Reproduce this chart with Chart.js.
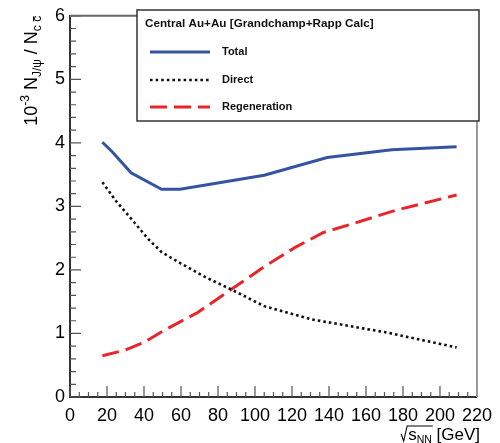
<!DOCTYPE html>
<html>
<head>
<meta charset="utf-8">
<script src="https://cdn.jsdelivr.net/npm/chart.js@4/dist/chart.umd.min.js"></script>
<style>
  html, body { margin: 0; padding: 0; background: #fff; }
  #chart { display: block; }
</style>
</head>
<body>
<canvas id="chart" width="500" height="443"></canvas>
<script>
// values (sqrt(s_NN) in GeV, 10^-3 N_J/psi / N_ccbar)
const xTotal = [17.5, 22.8, 33, 49.5, 59.5, 105, 139, 174, 209];
const yTotal = [4.01, 3.86, 3.53, 3.27, 3.27, 3.49, 3.77, 3.89, 3.94];

const xDirect = [17.5, 25, 33.5, 42.5, 49.5, 60, 73, 88, 105, 131, 172, 209];
const yDirect = [3.38, 3.08, 2.79, 2.48, 2.28, 2.10, 1.89, 1.68, 1.43, 1.22, 1.01, 0.78];

const xRegen = [17.5, 30, 40, 51.5, 69, 88, 105, 122, 137, 152, 175, 209];
const yRegen = [0.65, 0.74, 0.86, 1.06, 1.33, 1.71, 2.05, 2.36, 2.59, 2.72, 2.93, 3.18];

const seriesNames = ['Total', 'Direct', 'Regeneration'];
const legendTitle = 'Central Au+Au [Grandchamp+Rapp Calc]';

const FONT = '"Liberation Sans", Arial, Helvetica, sans-serif';

function pts(xs, ys) {
	return xs.map((x, i) => ({ x: x, y: ys[i] }));
}

// inward ticks + top/right frame, ROOT style
const frame = {
	id: 'frame',
	beforeDatasetsDraw(chart) {
		const ctx = chart.ctx;
		const a = chart.chartArea;
		const xs = chart.scales.x;
		const ys = chart.scales.y;
		ctx.save();
		ctx.strokeStyle = '#555';
		ctx.lineWidth = 1.2;
		ctx.beginPath();
		for (let v = 0; v <= 220; v += 5) {
			const px = xs.getPixelForValue(v);
			const len = (v % 20 === 0) ? 11 : 5;
			ctx.moveTo(px, a.bottom);
			ctx.lineTo(px, a.bottom - len);
		}
		for (let i = 0; i <= 30; i++) {
			const py = ys.getPixelForValue(i * 0.2);
			const len = (i % 5 === 0) ? 11 : 6;
			ctx.moveTo(a.left, py);
			ctx.lineTo(a.left + len, py);
		}
		ctx.stroke();

		ctx.strokeStyle = '#666';
		ctx.lineWidth = 2;
		ctx.beginPath();
		ctx.moveTo(a.left, a.top);
		ctx.lineTo(a.right, a.top);
		ctx.stroke();
		ctx.strokeStyle = '#999';
		ctx.beginPath();
		ctx.moveTo(a.right, a.top);
		ctx.lineTo(a.right, a.bottom);
		ctx.stroke();
		ctx.restore();
	}
};

// legend box in the top right
const legendBox = {
	id: 'legendBox',
	afterDatasetsDraw(chart) {
		const ctx = chart.ctx;
		const left = 137, top = 10, right = 479, bottom = 121;
		ctx.save();
		ctx.fillStyle = '#fff';
		ctx.fillRect(left, top, right - left, bottom - top);
		ctx.strokeStyle = '#333';
		ctx.lineWidth = 1.5;
		ctx.strokeRect(left, top, right - left, bottom - top);

		ctx.fillStyle = '#111';
		ctx.textBaseline = 'middle';
		ctx.font = 'bold 11.7px ' + FONT;
		ctx.fillText(legendTitle, 145, 24);

		ctx.font = 'bold 11px ' + FONT;
		const rows = [52, 80, 107];
		chart.data.datasets.forEach((ds, i) => {
			ctx.strokeStyle = ds.borderColor;
			ctx.lineWidth = ds.borderWidth;
			ctx.setLineDash(ds.borderDash || []);
			ctx.beginPath();
			ctx.moveTo(150, rows[i]);
			ctx.lineTo(210, rows[i]);
			ctx.stroke();
			ctx.setLineDash([]);
			ctx.fillText(seriesNames[i], 222, rows[i]);
		});
		ctx.restore();
	}
};

// axis titles with sub/superscripts
function drawRuns(ctx, runs, x0, y0) {
	let x = x0;
	runs.forEach(r => {
		ctx.font = r.size + 'px ' + FONT;
		ctx.fillText(r.t, x, y0 + (r.dy || 0));
		const w = ctx.measureText(r.t).width;
		if (r.bar) {
			ctx.beginPath();
			ctx.moveTo(x + 0.5, y0 + r.dy - r.size * 0.62);
			ctx.lineTo(x + w - 0.5, y0 + r.dy - r.size * 0.62);
			ctx.stroke();
		}
		x += w;
	});
	return x - x0;
}

function runsWidth(ctx, runs) {
	let w = 0;
	runs.forEach(r => {
		ctx.font = r.size + 'px ' + FONT;
		w += ctx.measureText(r.t).width;
	});
	return w;
}

const titles = {
	id: 'titles',
	afterDraw(chart) {
		const ctx = chart.ctx;
		const a = chart.chartArea;
		ctx.save();
		ctx.fillStyle = '#000';
		ctx.strokeStyle = '#000';
		ctx.lineWidth = 1;
		ctx.textBaseline = 'alphabetic';

		// y title, rotated, aligned to the top of the axis
		const yRuns = [
			{ t: '10', size: 18 },
			{ t: '-3', size: 12, dy: -8 },
			{ t: ' N', size: 18 },
			{ t: 'J/\u03c8', size: 12, dy: 4 },
			{ t: ' / N', size: 18 },
			{ t: 'c', size: 12, dy: 4 },
			{ t: ' ', size: 12, dy: 4 },
			{ t: 'c', size: 12, dy: 4, bar: true }
		];
		const wy = runsWidth(ctx, yRuns);
		ctx.save();
		ctx.translate(37, a.top + wy);
		ctx.rotate(-Math.PI / 2);
		drawRuns(ctx, yRuns, 0, 0);
		ctx.restore();

		// x title: radical sign drawn as a stroke, then s_NN [GeV], right end at 480
		const xRuns = [
			{ t: 's', size: 17 },
			{ t: 'NN', size: 10.5, dy: 2.5 },
			{ t: ' [GeV]', size: 17 }
		];
		const wx = runsWidth(ctx, xRuns);
		const x0 = 480 - wx;
		const base = 440;
		drawRuns(ctx, xRuns, x0, base);
		ctx.font = '17px ' + FONT;
		const wS = ctx.measureText('s').width;
		ctx.font = '10.5px ' + FONT;
		const wNN = ctx.measureText('NN').width;
		ctx.lineWidth = 1.1;
		ctx.beginPath();
		ctx.moveTo(x0 - 7, base - 6);
		ctx.lineTo(x0 - 4.5, base + 1);
		ctx.lineTo(x0 - 1, base - 14);
		ctx.lineTo(x0 + wS + wNN + 1, base - 14);
		ctx.stroke();
		ctx.restore();
	}
};

const data = {
	datasets: [
		{
			label: seriesNames[0],
			data: pts(xTotal, yTotal),
			borderColor: '#3553a5',
			borderWidth: 3,
			pointRadius: 0,
			tension: 0
		},
		{
			label: seriesNames[1],
			data: pts(xDirect, yDirect),
			borderColor: '#111',
			borderWidth: 2.6,
			borderDash: [2.6, 3],
			pointRadius: 0,
			tension: 0
		},
		{
			label: seriesNames[2],
			data: pts(xRegen, yRegen),
			borderColor: '#ea2429',
			borderWidth: 3,
			borderDash: [17, 7],
			pointRadius: 0,
			tension: 0
		}
	]
};

const config = {
	type: 'line',
	data: data,
	options: {
		responsive: false,
		animation: false,
		devicePixelRatio: 1,
		layout: { padding: { top: 10, right: 16, left: 0, bottom: 0 } },
		plugins: {
			legend: { display: false },
			tooltip: { enabled: false }
		},
		scales: {
			x: {
				type: 'linear',
				min: 0,
				max: 220,
				afterFit: s => { s.height = 46; },
				grid: { display: false, drawTicks: false },
				border: { display: true, color: '#333', width: 2 },
				ticks: {
					stepSize: 20,
					autoSkip: false,
					maxRotation: 0,
					padding: 8,
					color: '#000',
					font: { family: FONT, size: 18 }
				}
			},
			y: {
				type: 'linear',
				min: 0,
				max: 6,
				afterFit: s => { s.width = 70; },
				grid: { display: false, drawTicks: false },
				border: { display: true, color: '#333', width: 2 },
				ticks: {
					stepSize: 1,
					padding: 5,
					color: '#000',
					font: { family: FONT, size: 18 }
				}
			}
		}
	},
	plugins: [frame, legendBox, titles]
};

new Chart(document.getElementById('chart'), config);
</script>
</body>
</html>
